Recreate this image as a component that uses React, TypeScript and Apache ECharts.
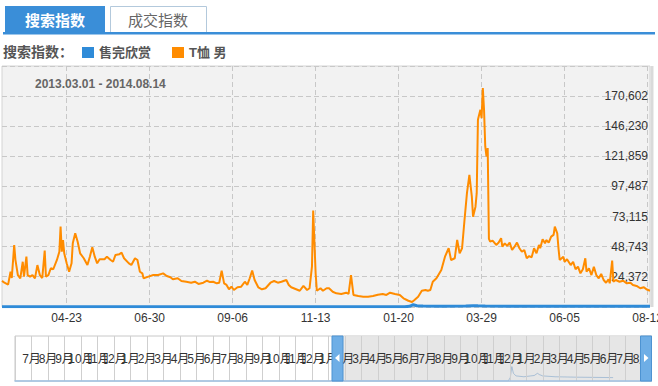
import React, { useEffect, useRef } from 'react';
import * as echarts from 'echarts';

// ---------- data ----------
const startDate = '2013-03-01';
const endDate = '2014-08-14';
const dateRangeText = '2013.03.01 - 2014.08.14';
const xTickDates = ['2013-04-23', '2013-06-30', '2013-09-06', '2013-11-13', '2014-01-20', '2014-03-29', '2014-06-05', '2014-08-12'];
const seriesNames = ['售完欣赏', 'T恤 男'];
const yTickLabels = ['24,372', '48,743', '73,115', '97,487', '121,859', '146,230', '170,602'];
const yTopTick = 170602;
const navStartMonth = '2011-06';
const navMonthCount = 40;

// [day offset from startDate, value]
const blueSeries: [number, number][] = [
  [0, 0], [330, 0], [334, 400], [337, 1700], [340, 900], [345, 600], [360, 500], [380, 650],
  [386, 900], [390, 750], [396, 600], [420, 500], [460, 450], [531, 400],
];

const orangeSeries: [number, number][] = [
  [0, 21000], [2, 19500], [5, 18000], [7, 28400], [8, 23300], [10, 50000], [11, 38000], [13, 25700],
  [15, 23000], [17, 36500], [18, 24400], [20, 40600], [21, 25700], [23, 24400], [25, 25700], [27, 23000],
  [29, 33800], [31, 25700], [33, 23300], [35, 45500], [36, 24400], [38, 25700], [40, 31200], [42, 30400],
  [45, 37900], [47, 44600], [48, 64900], [49, 44600], [50, 54100], [51, 43300], [53, 35200], [55, 28400],
  [57, 35200], [58, 51400], [60, 59500], [62, 52700], [64, 43300], [67, 39300], [70, 33800], [72, 40600],
  [74, 48200], [76, 40600], [78, 35200], [80, 38500], [84, 38500], [86, 40600], [89, 37900], [91, 36500],
  [93, 42000], [96, 42500], [98, 43800], [100, 39300], [104, 35200], [106, 33800], [109, 39300], [111, 37900],
  [113, 28400], [115, 27100], [116, 23100], [120, 24400], [124, 25700], [128, 25700], [132, 27100], [135, 24900],
  [138, 23900], [140, 22300], [144, 23100], [147, 20900], [151, 20300], [155, 19500], [158, 20300], [161, 18500],
  [165, 19500], [168, 21100], [170, 20100], [173, 20300], [176, 19000], [178, 19500], [180, 29300], [182, 19000],
  [184, 17700], [186, 14200], [188, 16300], [190, 13600], [193, 15800], [196, 16300], [199, 20300], [201, 17700],
  [203, 23100], [205, 29300], [207, 21700], [210, 15800], [213, 14200], [216, 15000], [220, 19500], [223, 20900],
  [226, 19500], [229, 20300], [233, 21700], [235, 17700], [237, 15800], [241, 14200], [244, 13000], [247, 16900],
  [250, 13600], [252, 15000], [254, 32500], [255, 77900], [257, 27100], [258, 13000], [261, 15000], [263, 13000],
  [266, 15000], [268, 15000], [271, 12200], [274, 10900], [278, 10400], [282, 11400], [284, 10400], [286, 25700],
  [288, 9600], [292, 8700], [296, 8200], [300, 8200], [304, 8700], [308, 9800], [312, 10400], [315, 9600],
  [318, 11400], [322, 10400], [326, 9600], [329, 6900], [333, 4900], [336, 3900], [338, 5500], [341, 8200],
  [344, 13000], [347, 13600], [349, 13000], [351, 13600], [353, 20300], [356, 23100], [360, 29800], [363, 40600],
  [366, 47400], [368, 37900], [371, 39300], [373, 54100], [375, 43300], [377, 47400], [379, 70300], [381, 92000],
  [383, 106800], [385, 89200], [386, 73000], [388, 81100], [389, 92000], [390, 151400], [392, 159500], [393, 152800],
  [394, 177100], [395, 159500], [396, 129800], [397, 121700], [398, 128500], [399, 55000], [400, 52800], [402, 53600],
  [405, 50100], [407, 52000], [409, 55500], [410, 48700], [412, 51400], [414, 49300], [416, 52000], [418, 46000],
  [420, 48700], [422, 52000], [424, 47400], [426, 44600], [428, 46000], [430, 39300], [432, 41100], [434, 40100],
  [436, 47400], [438, 43300], [440, 50100], [441, 47400], [443, 54700], [445, 51400], [446, 54100], [448, 52000],
  [450, 56800], [452, 58200], [453, 64900], [455, 59500], [456, 47400], [457, 37900], [460, 40600], [461, 36500],
  [463, 38500], [466, 33800], [468, 36500], [470, 30400], [472, 32500], [474, 27100], [476, 30400], [478, 39300],
  [479, 28400], [481, 31200], [483, 25700], [485, 32500], [487, 25700], [489, 23100], [491, 26600], [493, 21700],
  [495, 19500], [497, 22300], [498, 19000], [500, 37400], [501, 20300], [503, 21700], [506, 20300], [509, 21100],
  [512, 19000], [515, 19500], [517, 17700], [520, 16900], [523, 15000], [526, 15800], [528, 14200], [531, 13000],
];

// ---------- helpers ----------
function buildDays(from: string, to: string): string[] {
  const out: string[] = [];
  const a = Date.parse(from + 'T00:00:00Z');
  const b = Date.parse(to + 'T00:00:00Z');
  for (let t = a; t <= b; t += 86400000) out.push(new Date(t).toISOString().slice(0, 10));
  return out;
}
function buildMonths(from: string, count: number): string[] {
  const [y, m] = from.split('-').map(Number);
  const out: string[] = [];
  for (let i = 0; i < count; i++) {
    const mm = (m - 1 + i) % 12 + 1;
    const yy = y + Math.floor((m - 1 + i) / 12);
    out.push(`${yy}-${String(mm).padStart(2, '0')}`);
  }
  return out;
}

const FONT = 'Arial, "Liberation Sans", "Noto Sans CJK SC", sans-serif';
const BLUE = '#2f8bd8';
const ORANGE = '#ff8c00';
const TAB_BLUE = '#3a8ed8';
const CANVAS_W = 680; // wider than the 658px window so the last tick label is clipped like the reference

export default function App() {
  const ref = useRef<HTMLDivElement>(null);
  useEffect(() => {
    if (!ref.current) return;
    const chart = echarts.init(ref.current, undefined, { renderer: 'svg' });
    const days = buildDays(startDate, endDate);
    const months = buildMonths(navStartMonth, navMonthCount);
    const yStep = yTopTick / 7;
    const tickSet = new Set(xTickDates);
    const handleStyle = { fill: '#6eaee6', stroke: '#4d93d2', lineWidth: 1 };

    chart.setOption({
      animation: false,
      textStyle: { fontFamily: FONT },
      legend: {
        data: seriesNames,
        left: 82,
        top: 46,
        padding: 0,
        icon: 'rect',
        itemWidth: 12,
        itemHeight: 11,
        itemGap: 21,
        selectedMode: false,
        textStyle: { fontSize: 13, fontWeight: 'bold', color: '#555', fontFamily: FONT },
      },
      grid: [
        { left: 2, right: 8 + (CANVAS_W - 658), top: 66, bottom: 79.2, show: true, backgroundColor: '#f2f2f2', borderColor: '#d4d4d4', borderWidth: 1 },
        { left: 15, top: 336, width: 643.5, height: 45, show: true, backgroundColor: '#fff', borderColor: '#c8c8c8', borderWidth: 1 },
      ],
      xAxis: [
        {
          type: 'category', gridIndex: 0, data: days, boundaryGap: false,
          axisLine: { show: false }, axisTick: { show: false },
          axisLabel: {
            interval: (_i: number, v: string) => tickSet.has(v),
            formatter: (v: string) => v.slice(5),
            color: '#333', fontSize: 12, margin: 5,
            showMinLabel: true, showMaxLabel: true,
          },
          splitLine: {
            show: true,
            interval: (_i: number, v: string) => tickSet.has(v),
            lineStyle: { color: '#c8c8c8', type: [5, 3], width: 1 },
          },
        },
        {
          type: 'category', gridIndex: 1, data: months, boundaryGap: false, z: 5,
          axisLine: { show: true, lineStyle: { color: '#9fc1e2', width: 1.5 } },
          axisTick: { show: false },
          axisLabel: {
            inside: true, margin: 16, color: '#333', fontSize: 12,
            interval: 0,
            showMinLabel: true, showMaxLabel: true,
            formatter: (v: string, i: number) => (i === 0 || i === navMonthCount - 1 ? '' : `${Number(v.slice(5))}月`),
          },
          splitLine: { show: true, interval: 0, lineStyle: { color: '#cfcfcf', width: 1 } },
        },
        {
          type: 'value', gridIndex: 1, min: -615, max: 618, show: false, position: 'top',
        },
      ],
      yAxis: [
        {
          type: 'value', gridIndex: 0, position: 'right', min: 0, max: yStep * 8, interval: yStep,
          axisLine: { show: false }, axisTick: { show: false },
          axisLabel: {
            inside: true, margin: 2, color: '#333', fontSize: 12,
            formatter: (v: number) => {
              const k = Math.round(v / yStep);
              return k >= 1 && k <= 7 ? yTickLabels[k - 1] : '';
            },
          },
          splitLine: { lineStyle: { color: '#c8c8c8', type: [5, 3], width: 1 } },
        },
        { type: 'value', gridIndex: 1, min: 0, max: 5300, show: false },
      ],
      series: [
        {
          name: seriesNames[0], type: 'line', xAxisIndex: 0, yAxisIndex: 0, data: blueSeries,
          showSymbol: false, lineStyle: { color: BLUE, width: 3 }, itemStyle: { color: BLUE }, z: 3,
        },
        {
          name: seriesNames[1], type: 'line', xAxisIndex: 0, yAxisIndex: 0, data: orangeSeries,
          showSymbol: false, lineStyle: { color: ORANGE, width: 2 }, itemStyle: { color: ORANGE }, z: 2,
        },
        {
          name: 'nav', type: 'line', xAxisIndex: 2, yAxisIndex: 1, data: blueSeries,
          showSymbol: false, lineStyle: { color: 'rgba(120,160,200,0.55)', width: 1 }, z: 3, silent: true,
        },
      ],
      graphic: [
        { type: 'rect', z: 10, shape: { x: 5, y: 6, width: 100, height: 27 }, style: { fill: TAB_BLUE } },
        { type: 'text', z: 11, x: 55, y: 20, style: { text: '搜索指数', fill: '#fff', fontSize: 15, fontWeight: 'bold', fontFamily: FONT, align: 'center', verticalAlign: 'middle' } },
        { type: 'rect', z: 10, shape: { x: 110.5, y: 6.5, width: 96, height: 27 }, style: { fill: '#fff', stroke: '#b3c9dc', lineWidth: 1 } },
        { type: 'text', z: 11, x: 158, y: 20, style: { text: '成交指数', fill: '#666', fontSize: 15, fontFamily: FONT, align: 'center', verticalAlign: 'middle' } },
        { type: 'rect', z: 12, shape: { x: 3, y: 32, width: 652, height: 2.5 }, style: { fill: TAB_BLUE } },
        { type: 'text', z: 11, x: 3, y: 52, style: { text: '搜索指数：', fill: '#555', fontSize: 14, fontWeight: 'bold', fontFamily: FONT, align: 'left', verticalAlign: 'middle' } },
        { type: 'text', z: 11, x: 35, y: 84, style: { text: dateRangeText, fill: '#666', fontSize: 12, fontWeight: 'bold', fontFamily: FONT, align: 'left', verticalAlign: 'middle' } },
        { type: 'rect', z: 11, shape: { x: 650.5, y: 66, width: 3, height: 241 }, style: { fill: '#dadada' } },
        // navigator selection
        { type: 'rect', z: 2, shape: { x: 332, y: 336.5, width: 320, height: 44 }, style: { fill: '#e6e6e6' } },
        { type: 'rect', z: 20, shape: { x: 652, y: 334, width: CANVAS_W - 652, height: 50 }, style: { fill: '#fff' } },
        { type: 'rect', z: 21, shape: { x: 332, y: 336, width: 11, height: 45 }, style: handleStyle },
        { type: 'polygon', z: 22, shape: { points: [[335, 358], [339.5, 354], [339.5, 362]] }, style: { fill: '#fff' } },
        { type: 'rect', z: 21, shape: { x: 640.5, y: 336, width: 11, height: 45 }, style: handleStyle },
        { type: 'polygon', z: 22, shape: { points: [[648.5, 358], [644, 354], [644, 362]] }, style: { fill: '#fff' } },
      ],
    });
    return () => chart.dispose();
  }, []);
  return (
    <div style={{ position: 'absolute', left: 0, top: 0, width: 658, height: 386, overflow: 'hidden' }}>
      <div ref={ref} style={{ width: CANVAS_W, height: 386 }} />
    </div>
  );
}
